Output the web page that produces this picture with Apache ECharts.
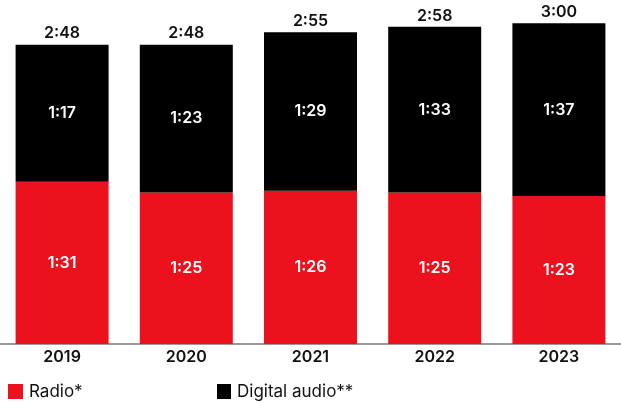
<!DOCTYPE html>
<html>
<head>
<meta charset="utf-8">
<script src="https://cdn.jsdelivr.net/npm/echarts@6/dist/echarts.min.js"></script>
<style>html,body{margin:0;padding:0;background:#fff}#c{width:621px;height:403px}</style>
</head>
<body>
<div id="c"></div>
<script>
// Values in minutes per day
const categories = ['2019', '2020', '2021', '2022', '2023'];
const radioMinutes = [91, 85, 86, 85, 83];
const digitalMinutes = [77, 83, 89, 93, 97];
const seriesNames = ['Radio*', 'Digital audio**'];

const totals = radioMinutes.map((v, i) => v + digitalMinutes[i]);
const fmt = m => Math.floor(m / 60) + ':' + String(m % 60).padStart(2, '0');

const FONT = 'Inter';
const legendText = { fontFamily: FONT, fontSize: 17, color: '#111', lineHeight: 15, padding: [0,0,0,1] };
const chart = echarts.init(document.getElementById('c'));
chart.setOption({
  animation: false,
  grid: { left: 0, right: 0, top: 23.3, bottom: 59 },
  legend: [
    { data: [seriesNames[0]], left: 3, top: 378, icon: 'rect', itemWidth: 15, itemHeight: 15, itemGap: 0,
      textStyle: legendText },
    { data: [seriesNames[1]], left: 212, top: 378, icon: 'rect', itemWidth: 14, itemHeight: 15, itemGap: 0,
      textStyle: legendText }
  ],
  xAxis: {
    type: 'category', data: categories,
    axisLine: { lineStyle: { color: '#777', width: 1.5 } },
    axisTick: { show: false },
    axisLabel: { fontFamily: FONT, fontSize: 16, fontWeight: 600, color: '#111', margin: 5 }
  },
  yAxis: { type: 'value', min: 0, max: 180, show: false, splitLine: { show: false } },
  series: [
    {
      name: seriesNames[0], type: 'bar', stack: 'a', barWidth: 93, data: radioMinutes,
      itemStyle: { color: '#EB111D' },
      label: { show: true, position: 'inside', formatter: p => fmt(p.value),
        fontFamily: FONT, fontSize: 16, fontWeight: 600, color: '#fff' }
    },
    {
      name: seriesNames[1], type: 'bar', stack: 'a', barWidth: 93, data: digitalMinutes,
      itemStyle: { color: '#000' },
      label: { show: true, position: 'inside', formatter: p => fmt(p.value),
        fontFamily: FONT, fontSize: 16, fontWeight: 600, color: '#fff' }
    },
    {
      name: 'total', type: 'bar', stack: 'a', barWidth: 93, data: totals.map(() => 0),
      itemStyle: { color: 'transparent' }, silent: true,
      label: { show: true, position: 'top', distance: 3, formatter: p => fmt(totals[p.dataIndex]),
        fontFamily: FONT, fontSize: 16, fontWeight: 600, color: '#111' }
    }
  ]
});
</script>
</body>
</html>
